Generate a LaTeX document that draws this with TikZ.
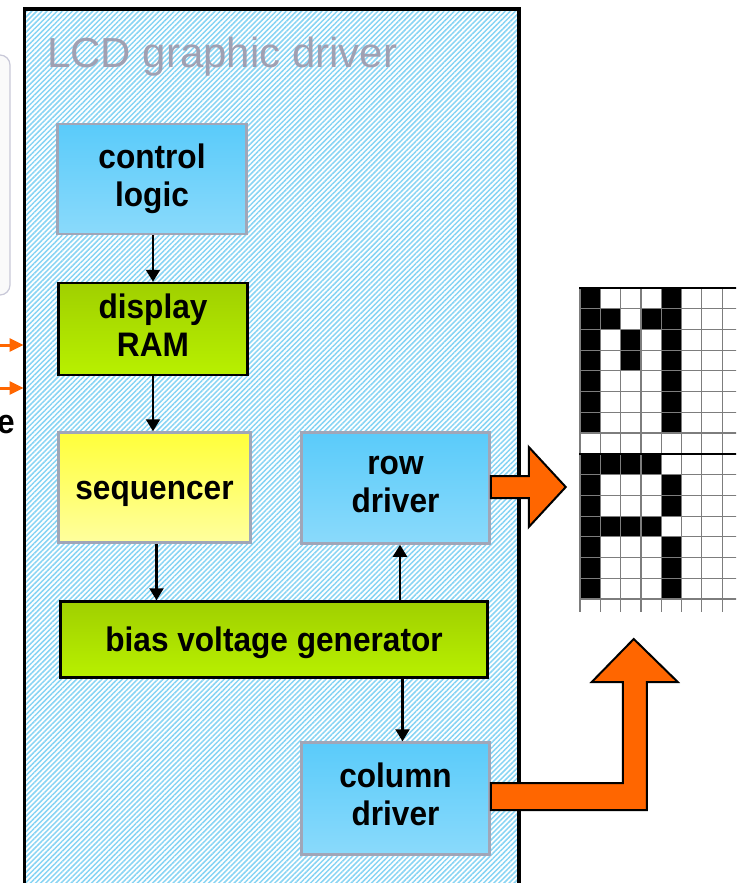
\documentclass[tikz,border=0pt]{standalone}
\usepackage{fontspec}
\setmainfont{Liberation Sans}
\newfontfamily\boxfam{Liberation Sans}[FakeStretch=0.93]
\usetikzlibrary{arrows.meta,positioning,calc,patterns.meta}
\definecolor{lcdhatch}{RGB}{135,212,244}
\definecolor{lcdgray}{RGB}{160,160,178}
\definecolor{bluetop}{RGB}{90,203,250}
\definecolor{bluebot}{RGB}{138,218,251}
\definecolor{grntop}{RGB}{160,208,0}
\definecolor{grnbot}{RGB}{184,240,0}
\definecolor{yeltop}{RGB}{255,255,58}
\definecolor{yelbot}{RGB}{255,255,158}
\definecolor{bordgray}{RGB}{160,166,184}
\definecolor{sigorange}{RGB}{255,102,0}
\definecolor{panelgray}{RGB}{200,200,216}
\definecolor{gridgray}{RGB}{125,125,125}
\newcommand{\boxfont}{\boxfam\fontsize{34}{38}\selectfont\bfseries}
\newcommand{\cellw}{20.3}
\newcommand{\cellh}{20.7}
\tikzset{
  lcdframe/.style={draw=black, line width=3.5pt, preaction={fill=white},
                   pattern={Lines[angle=45,distance=3.6pt,line width=1.5pt]}, pattern color=lcdhatch,
                   anchor=north west, inner sep=0pt},
  bluebox/.style={draw=bordgray, line width=2.5pt, top color=bluetop, bottom color=bluebot,
                  align=center, font=\boxfont, inner sep=0pt,
                  execute at begin node={\rule{0pt}{31pt}},
                  execute at end node={\rule[-8pt]{0pt}{8pt}}},
  grnbox/.style={bluebox, draw=black, top color=grntop, bottom color=grnbot},
  yelbox/.style={bluebox, top color=yeltop, bottom color=yelbot},
  flowarr/.style={-{Triangle[length=12pt,width=14pt]}, line width=2.3pt},
  inarr/.style={-{Triangle[length=14pt,width=13pt]}, sigorange, line width=3pt},
  bigarr/.style={fill=sigorange, draw=black, line width=2pt, line join=miter},
  gridln/.style={gridgray, line width=1.2pt},
  gridsep/.style={black, line width=2.4pt},
}

\begin{document}
\begin{tikzpicture}[x=1pt, y=-1pt]
  \useasboundingbox (0,0) rectangle (736,883);
  \clip (0,0) rectangle (736,883);

  % cut-off panel and inputs on the left
  \draw[draw=panelgray, fill=gray!4, rounded corners=10pt, line width=1.2pt] (-20,55) rectangle (10,295);
  \coordinate (in1) at (0,345);
  \coordinate (in2) at (0,388);
  \node[font=\boxfont, anchor=base east, inner sep=0pt] (cut) at (15,433) {e};

  % driver frame
  \node[lcdframe, minimum width=494.5pt, minimum height=900pt] (lcd) at (23.5,8.5) {};
  \node[anchor=base west, font=\fontsize{42}{50}\selectfont, text=lcdgray, inner sep=0pt] (title) at (47,67) {LCD graphic driver};
  \draw[inarr] (in1) -- (in1 -| lcd.west);
  \draw[inarr] (in2) -- (in2 -| lcd.west);

  % blocks
  \node[bluebox, minimum width=189pt, minimum height=110pt] (ctl) at (152,179) {control\\logic};
  \node[grnbox, minimum width=189pt, minimum height=92pt] (ram) at (153,329) {display\\RAM};
  \node[yelbox, minimum width=192pt, minimum height=110pt] (seq) at (154.5,487.5) {sequencer};
  \node[bluebox, minimum width=188pt, minimum height=111pt] (row) at (395.5,488) {row\\driver};
  \node[grnbox, minimum width=427pt, minimum height=76pt] (bias) at (274,639.5) {bias voltage generator};
  \node[bluebox, minimum width=188pt, minimum height=112pt] (col) at (395.5,798.5) {column\\driver};

  \draw[flowarr] (ram.north |- ctl.south) -- (ram.north);
  \draw[flowarr] (ram.south) -- (ram.south |- seq.north);
  \draw[flowarr] ([xshift=2pt]seq.south) -- ([xshift=2pt]seq.south |- bias.north);
  \draw[flowarr] ([xshift=4.5pt]row.south |- bias.north) -- ([xshift=4.5pt]row.south);
  \draw[flowarr] ([xshift=7pt]col.north |- bias.south) -- ([xshift=7pt]col.north);

  % dot matrix
  \foreach \c/\r in {0/0,0/1,0/2,0/3,0/4,0/5,0/6,4/0,4/1,4/2,4/3,4/4,4/5,4/6,1/1,3/1,2/2,2/3}
    \fill (580+\c*\cellw, 288+\r*\cellh) rectangle ++(\cellw,\cellh);
  \foreach \c/\r in {0/0,0/1,0/2,0/3,0/4,0/5,0/6,1/0,2/0,3/0,1/3,2/3,3/3,4/1,4/2,4/4,4/5,4/6}
    \fill (580+\c*\cellw, 454+\r*\cellh) rectangle ++(\cellw,\cellh);
  \foreach \i in {0,...,8}
    \draw[gridln] (580+\i*\cellw, 288) -- (580+\i*\cellw, 612);
  \foreach \j in {1,...,7} {
    \draw[gridln] (580, 288+\j*\cellh) -- (740, 288+\j*\cellh);
    \draw[gridln] (580, 454+\j*\cellh) -- (740, 454+\j*\cellh);
  }
  \draw[gridsep] (579,288) -- (740,288);
  \draw[gridsep] (579,454) -- (740,454);

  % outputs to the display
  \draw[bigarr] ($(row.east)+(0,-12)$) -- ++(38,0) -- ++(0,-29) -- ++(37,40) -- ++(-37,40)
    -- ++(0,-29) -- ++(-38,0) -- cycle;
  \draw[bigarr] ($(col.east)+(0,-15.5)$) -- ++(132,0) -- ++(0,-101) -- ++(-31,0) -- ++(42,-43)
    -- ++(44,43) -- ++(-31,0) -- ++(0,128) -- ++(-156,0) -- cycle;
\end{tikzpicture}
\end{document}
